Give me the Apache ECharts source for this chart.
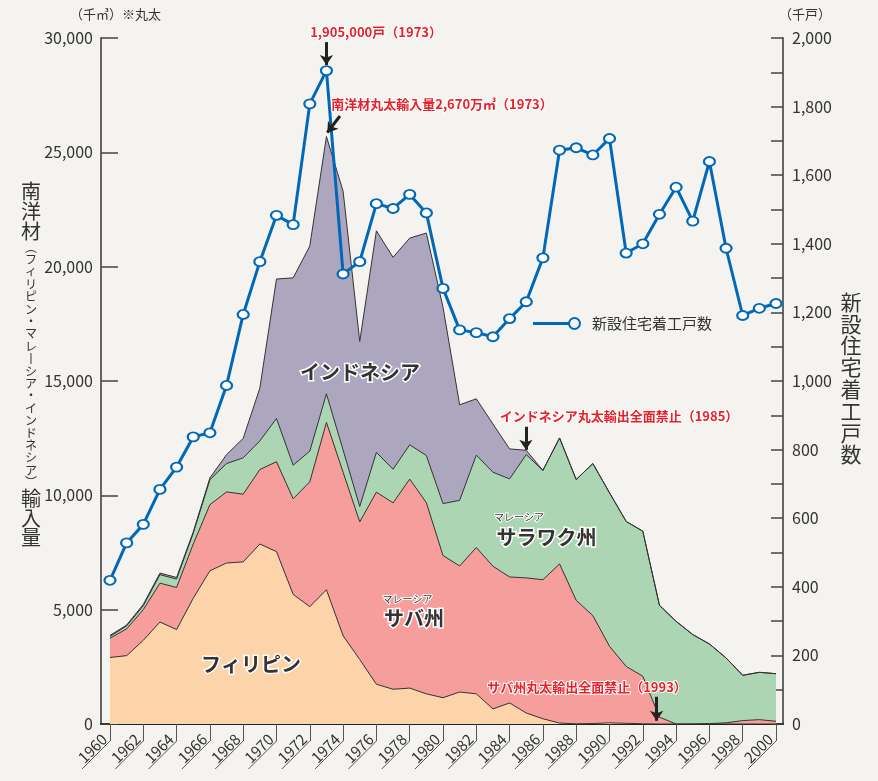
<!DOCTYPE html>
<html lang="ja">
<head>
<meta charset="utf-8">
<title>南洋材輸入量と新設住宅着工戸数</title>
<script src="https://cdn.jsdelivr.net/npm/echarts@6/dist/echarts.min.js"></script>
<style>
  html, body { margin: 0; padding: 0; background: #f4f3ef; }
  #chart { width: 878px; height: 781px; }
</style>
</head>
<body>
<div id="chart"></div>
<script>
  // 年
  const years = [1960, 1961, 1962, 1963, 1964, 1965, 1966, 1967, 1968, 1969,
    1970, 1971, 1972, 1973, 1974, 1975, 1976, 1977, 1978, 1979,
    1980, 1981, 1982, 1983, 1984, 1985, 1986, 1987, 1988, 1989,
    1990, 1991, 1992, 1993, 1994, 1995, 1996, 1997, 1998, 1999, 2000]
  // x軸の目盛り（2年ごと）
  const xTickYears = [1960, 1962, 1964, 1966, 1968, 1970, 1972, 1974, 1976, 1978,
    1980, 1982, 1984, 1986, 1988, 1990, 1992, 1994, 1996, 1998, 2000]

  // 南洋材丸太輸入量（千㎥）
  const philippines = [2910, 2990, 3660, 4460, 4130, 5500, 6700, 7040, 7090, 7870,
    7540, 5670, 5130, 5870, 3860, 2820, 1740, 1520, 1570, 1320,
    1150, 1400, 1320, 660, 920, 480, 230, 40, 10, 20,
    50, 30, 10, 0, 0, 0, 0, 0, 0, 0, 0]
  const sabah = [840, 1170, 1340, 1700, 1840, 2370, 2890, 3110, 2960, 3260,
    3930, 4180, 5460, 7320, 7150, 6020, 8400, 8150, 9140, 8360,
    6220, 5510, 6400, 6240, 5510, 5910, 6080, 6960, 5400, 4720,
    3350, 2490, 2080, 300, 0, 0, 20, 50, 150, 190, 120]
  const sarawak = [80, 130, 170, 370, 370, 470, 1090, 1240, 1590, 1250,
    1890, 1470, 1340, 1250, 970, 670, 1740, 1470, 1500, 2060,
    2270, 2870, 4040, 4110, 4290, 5390, 4780, 5510, 5280, 6650,
    6710, 6340, 6340, 4890, 4490, 3910, 3480, 2840, 1980, 2070, 2080]
  const indonesia = [40, 40, 60, 70, 70, 60, 80, 390, 850, 2310,
    6100, 8190, 8970, 11250, 11320, 7220, 9690, 9270, 9040, 9730,
    8590, 4180, 2460, 2110, 1310, 190, 0, 0, 0, 0,
    0, 0, 0, 0, 0, 0, 0, 0, 0, 0, 0]

  // 新設住宅着工戸数（千戸）
  const housingStarts = [419, 528, 582, 684, 749, 837, 849, 987, 1194, 1348,
    1483, 1456, 1808, 1905, 1312, 1348, 1517, 1503, 1544, 1490,
    1270, 1149, 1141, 1129, 1182, 1231, 1359, 1673, 1680, 1659,
    1707, 1373, 1400, 1486, 1565, 1466, 1640, 1387, 1191, 1212, 1226]

  const FONT = '"Noto Sans CJK JP", "Noto Sans", sans-serif'

  // 下から積み上げた累計（上の層から描いて下の層で塗り重ねる）
  const layers = [
    { name: 'フィリピン', values: philippines, color: '#fdd3aa' },
    { name: 'サバ州', values: sabah, color: '#f59e9c' },
    { name: 'サラワク州', values: sarawak, color: '#acd6b3' },
    { name: 'インドネシア', values: indonesia, color: '#aca7bf' }
  ]
  let running = years.map(() => 0)
  layers.forEach(layer => {
    running = running.map((v, i) => v + layer.values[i])
    layer.cumulative = running
  })

  const redText = {
    color: '#e8202a', fontSize: 13, fontWeight: 'bold',
    textBorderColor: '#fff', textBorderWidth: 2
  }
  const bigText = {
    color: '#333', fontSize: 20, fontWeight: 'bold',
    textBorderColor: '#fff', textBorderWidth: 3
  }
  const smallText = {
    color: '#333', fontSize: 10,
    textBorderColor: '#fff', textBorderWidth: 2
  }

  const areaSeries = layers.slice().reverse().map(layer => ({
    name: layer.name,
    type: 'line',
    xAxisIndex: 0,
    yAxisIndex: 0,
    showSymbol: false,
    silent: true,
    lineStyle: { color: '#333', width: 1 },
    areaStyle: { color: layer.color, opacity: 1 },
    data: years.map((y, i) => [y, layer.cumulative[i]])
  }))

  // 注記と矢印は一番下の層（フィリピン）に付ける
  const bottom = areaSeries[areaSeries.length - 1]
  bottom.markLine = {
    silent: true,
    animation: false,
    symbol: ['none', 'arrow'],
    symbolSize: 10,
    lineStyle: { color: '#222', width: 3, type: 'solid' },
    label: { show: false },
    data: [
      [{ coord: [1973, 29820] }, { coord: [1973, 28820] }],
      [{ coord: [1973.81, 26590] }, { coord: [1973.05, 25860] }],
      [{ coord: [1984.98, 13000] }, { coord: [1984.98, 11990] }],
      [{ coord: [1992.83, 1190] }, { coord: [1992.83, 140] }]
    ]
  }
  bottom.markPoint = {
    silent: true,
    animation: false,
    symbol: 'rect',
    symbolSize: 1,
    itemStyle: { color: 'rgba(0,0,0,0)' },
    label: { show: true, position: 'inside', formatter: '{b}' },
    data: [
      { name: '1,905,000戸（1973）', coord: [1975.98, 29900], label: { ...redText, offset: [0, -8] } },
      { name: '南洋材丸太輸入量2,670万㎥（1973）', coord: [1979.94, 27110], label: redText },
      { name: 'インドネシア丸太輸出全面禁止（1985）', coord: [1990.57, 13470], label: redText },
      { name: 'サバ州丸太輸出全面禁止（1993）', coord: [1988.65, 1620], label: redText },
      { name: 'インドネシア', coord: [1975.02, 15390], label: bigText },
      { name: 'フィリピン', coord: [1968.47, 2620], label: bigText },
      { name: 'サバ州', coord: [1978.26, 4635], label: bigText },
      { name: 'マレーシア', coord: [1977.87, 5466], label: smallText },
      { name: 'サラワク州', coord: [1986.22, 8156], label: bigText },
      { name: 'マレーシア', coord: [1984.56, 9030], label: smallText }
    ]
  }

  // 縦書きの軸タイトル
  const vertical = (chars, style) => chars.map(c => `{${style}|${c}}`)
  const leftTitle = [
    ...vertical(['南', '洋', '材'], 'b'),
    ...vertical(['︵', 'フ', 'ィ', 'リ', 'ピ', 'ン', '・', 'マ', 'レ', '丨', 'シ', 'ア',
      '・', 'イ', 'ン', 'ド', 'ネ', 'シ', 'ア', '︶'], 's'),
    ...vertical(['輸', '入', '量'], 'b')
  ].join('\n')
  const rightTitle = vertical(['新', '設', '住', '宅', '着', '工', '戸', '数'], 'b').join('\n')

  const chart = echarts.init(document.getElementById('chart'))
  const option = {
    animation: false,
    backgroundColor: '#f4f3ef',
    textStyle: { fontFamily: FONT },
    title: [
      { text: '（千㎥）※丸太', left: 70, top: 8, padding: 0,
        textStyle: { fontSize: 13, fontWeight: 'normal', color: '#333' } },
      { text: '（千戸）', left: 779, top: 8, padding: 0,
        textStyle: { fontSize: 13, fontWeight: 'normal', color: '#333' } },
      { text: leftTitle, left: 19, top: 182, padding: 0,
        textStyle: {
          fontWeight: 'normal',
          rich: {
            b: { fontSize: 20, fontWeight: 'normal', lineHeight: 19.6, width: 24, align: 'center', color: '#333' },
            s: { fontSize: 12, fontWeight: 'normal', lineHeight: 12.4, width: 24, align: 'center', color: '#333' }
          }
        } },
      { text: rightTitle, left: 838, top: 291, padding: 0,
        textStyle: {
          fontWeight: 'normal',
          rich: {
            b: { fontSize: 21, fontWeight: 'normal', lineHeight: 21.8, width: 26, align: 'center', color: '#333' }
          }
        } }
    ],
    legend: {
      data: ['新設住宅着工戸数'],
      left: 533,
      top: 316,
      padding: 0,
      itemWidth: 48,
      itemHeight: 13,
      icon: 'path://M0 5 L36 5 L36 8 L0 8 Z M41.5 0 A6.5 6.5 0 1 1 41.49 0 Z M41.5 2 A4.5 4.5 0 1 0 41.51 2 Z',
      textStyle: { fontSize: 15, color: '#333', padding: [0, 0, 0, 6] }
    },
    grid: { left: 101, right: 95, top: 38, bottom: 57 },
    xAxis: {
      type: 'value',
      min: 1959.46,
      max: 2000.42,
      splitLine: { show: false },
      axisLine: { show: true, lineStyle: { color: '#222', width: 2 } },
      axisTick: { show: true, customValues: xTickYears, length: 17, lineStyle: { color: '#555', width: 1 } },
      axisLabel: {
        customValues: xTickYears,
        rotate: 45,
        margin: 7,
        padding: [0, 8, 0, 0],
        fontSize: 15,
        color: '#333',
        formatter: v => String(v)
      }
    },
    yAxis: [
      {
        type: 'value',
        min: 0,
        max: 30000,
        interval: 5000,
        splitLine: { show: false },
        axisLine: { show: true, lineStyle: { color: '#666', width: 2 } },
        axisTick: { show: true, inside: true, length: 17, lineStyle: { color: '#444', width: 1.5 } },
        axisLabel: { fontSize: 16, color: '#333', margin: 8, formatter: v => v.toLocaleString('en-US') }
      },
      {
        type: 'value',
        position: 'right',
        min: 0,
        max: 2000,
        interval: 100,
        splitLine: { show: false },
        axisLine: { show: true, lineStyle: { color: '#666', width: 2 } },
        axisTick: { show: true, inside: true, length: 12, lineStyle: { color: '#444', width: 1.5 } },
        axisLabel: {
          fontSize: 16, color: '#333', margin: 9,
          formatter: v => (v % 200 === 0 ? v.toLocaleString('en-US') : '')
        }
      }
    ],
    series: [
      ...areaSeries,
      {
        name: '新設住宅着工戸数',
        type: 'line',
        xAxisIndex: 0,
        yAxisIndex: 1,
        z: 4,
        symbol: 'emptyCircle',
        symbolSize: [11, 9],
        showAllSymbol: true,
        lineStyle: { color: '#0068b7', width: 3 },
        itemStyle: { color: '#0068b7', borderWidth: 1.5 },
        data: years.map((y, i) => [y, housingStarts[i]])
      },
      {
        // x軸ラベルの下線（目盛りから斜めに伸びる線）
        type: 'custom',
        xAxisIndex: 0,
        yAxisIndex: 0,
        silent: true,
        clip: false,
        data: xTickYears.map(y => [y, 0]),
        renderItem: (params, api) => {
          const p = api.coord([api.value(0), 0])
          return {
            type: 'line',
            shape: { x1: p[0], y1: p[1] + 17, x2: p[0] - 28, y2: p[1] + 45 },
            style: { stroke: '#555', lineWidth: 1 }
          }
        }
      }
    ]
  }
  option && chart.setOption(option)
</script>
</body>
</html>
